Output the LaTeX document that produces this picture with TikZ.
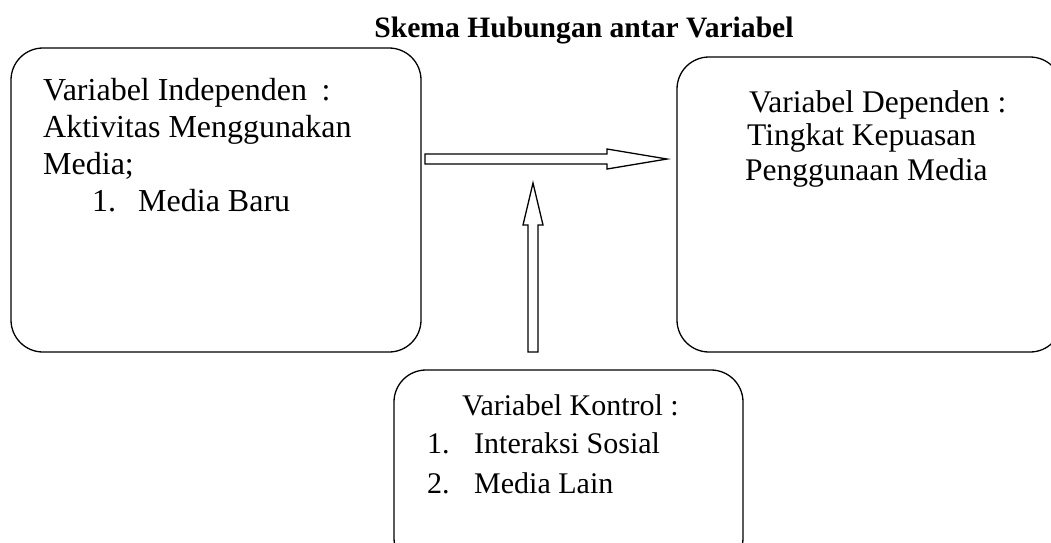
\documentclass[tikz,border=0pt]{standalone}
\usepackage{fontspec}
\setmainfont{Liberation Serif}
\tikzset{
  box/.style={draw, line width=1.3pt, rounded corners=32pt, inner sep=0pt},
  txt/.style={anchor=base west, inner sep=0pt, font=\fontsize{32}{38}\selectfont},
  txtr/.style={anchor=base west, inner sep=0pt, font=\fontsize{31.5}{37.5}\selectfont},
  txts/.style={anchor=base west, inner sep=0pt, font=\fontsize{30}{36}\selectfont},
  blockarrow/.style={draw, line width=1.3pt, fill=white, line join=miter},
}
\begin{document}
\begin{tikzpicture}[x=1pt, y=-1pt]
\useasboundingbox (0,0) rectangle (1051,542);
% title
\node[anchor=base, inner sep=0pt, font=\fontsize{29.6}{34}\selectfont\bfseries] (title) at (584,37) {Skema Hubungan antar Variabel};
% boxes
\node[box, minimum width=410pt, minimum height=304pt] (indep) at (216,200) {};
\node[box, minimum width=385pt, minimum height=295pt] (dep) at (869.5,204.5) {};
\node[box, minimum width=349pt, minimum height=200pt] (ctrl) at (568.5,470) {};
% left box text
\node[txt] (i1) at (43,100) {Variabel Independen\hspace{0.45em}:};
\node[txt] (i2) at (43,137) {Aktivitas Menggunakan};
\node[txt] (i3) at (43,174) {Media;};
\node[txt] (i4n) at (92,211) {1.};
\node[txt] (i4) at (138,211) {Media Baru};
% right box text
\node[txtr] (d1) at (749,112) {Variabel Dependen :};
\node[txtr] (d2) at (747,145) {Tingkat Kepuasan};
\node[txtr] (d3) at (745,180) {Penggunaan Media};
% bottom box text
\node[txts] (c1) at (462,415) {Variabel Kontrol :};
\node[txts] (c2n) at (427,453) {1.};
\node[txts] (c2) at (474,453) {Interaksi Sosial};
\node[txts] (c3n) at (427,493) {2.};
\node[txts] (c3) at (474,493) {Media Lain};
% arrows
\coordinate (hs) at (425,159);
\coordinate (ht) at (667,159);
\draw[blockarrow] ([yshift=-5pt]hs) -- ([xshift=-60pt,yshift=-5pt]ht) -- ([xshift=-60pt,yshift=-10pt]ht) -- (ht)
  -- ([xshift=-60pt,yshift=10pt]ht) -- ([xshift=-60pt,yshift=5pt]ht) -- ([yshift=5pt]hs) -- cycle;
\coordinate (vs) at (533,352);
\coordinate (vt) at (533,183);
\draw[blockarrow] ([xshift=-5pt]vs) -- ([xshift=-5pt,yshift=-42pt]vt) -- ([xshift=-10pt,yshift=-42pt]vt) -- (vt)
  -- ([xshift=10pt,yshift=-42pt]vt) -- ([xshift=5pt,yshift=-42pt]vt) -- ([xshift=5pt]vs) -- cycle;
\end{tikzpicture}
\end{document}
